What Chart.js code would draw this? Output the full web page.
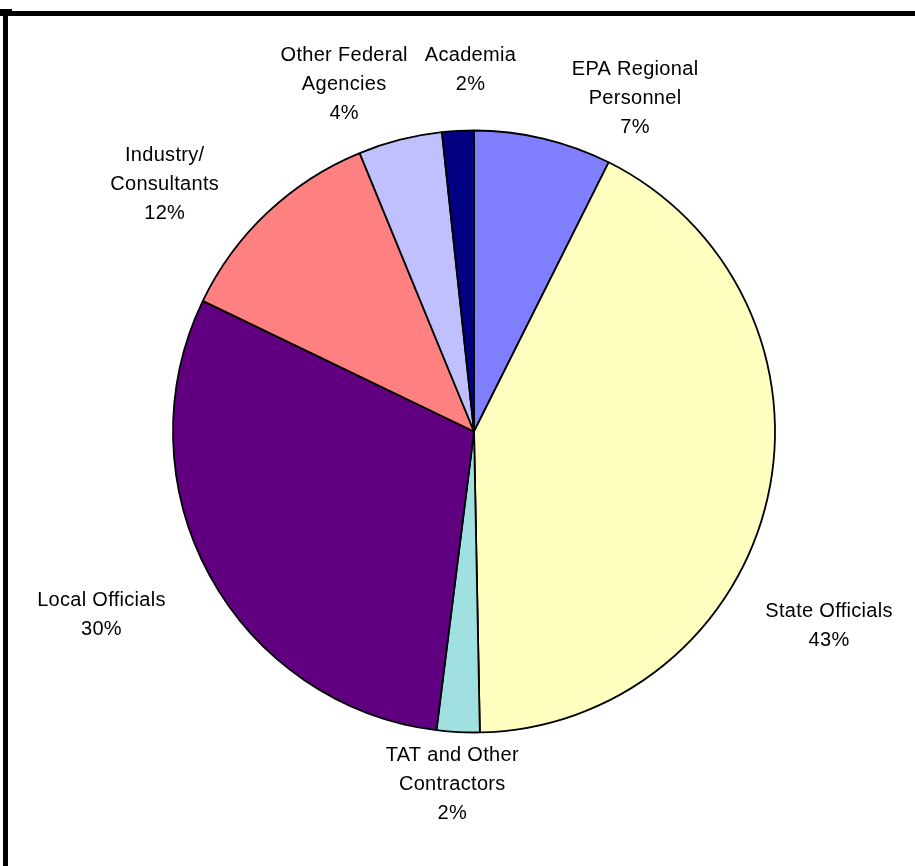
<!DOCTYPE html>
<html>
<head>
<meta charset="utf-8">
<script src="https://cdn.jsdelivr.net/npm/chart.js@4/dist/chart.umd.min.js"></script>
<style>
  html, body { margin: 0; padding: 0; background: #fff; }
  #wrap { position: relative; width: 915px; height: 866px; overflow: hidden; }
  /* Excel-style frame: heavy top and left rules only */
  #wrap::before { content: ''; position: absolute; left: 0; top: 11px; width: 915px; height: 5px; background: #000; }
  #wrap::after  { content: ''; position: absolute; left: 3px; top: 9px; width: 5px; height: 857px; background: #000; }
  #corner { position: absolute; left: 0; top: 9px; width: 12px; height: 3px; background: #000; }
  canvas { position: absolute; left: 0; top: 0; }
</style>
</head>
<body>
<div id="wrap">
  <div id="corner"></div>
  <canvas id="chart-pie" width="915" height="866"></canvas>
</div>
<script>
'use strict';

// ── Data (share of respondents, %) ────
const CATEGORIES = [
  ['EPA Regional', 'Personnel'],
  ['State Officials'],
  ['TAT and Other', 'Contractors'],
  ['Local Officials'],
  ['Industry/', 'Consultants'],
  ['Other Federal', 'Agencies'],
  ['Academia']
];
const SHARES      = [7.38, 42.3, 2.3, 30.15, 11.65, 4.5, 1.7];
const PCT_LABELS  = ['7%', '43%', '2%', '30%', '12%', '4%', '2%'];

// Classic Excel pie palette
const SLICE_COLORS = ['#8080FF', '#FFFFC0', '#A0E0E0', '#600080', '#FF8080', '#C0C0FF', '#000080'];

// Label placement: extra rotation (deg, clockwise) from slice mid-angle,
// and distance from centre as a multiple of the pie radius
const LABEL_TWEAK = [
  { rot: 12.5, dist: 1.23 },
  { rot: 16.0, dist: 1.345 },
  { rot: 0.5,  dist: 1.175 },
  { rot: 2.3,  dist: 1.38 },
  { rot: -8.1, dist: 1.315 },
  { rot: -6.3, dist: 1.23 },
  { rot: 2.5,  dist: 1.20 }
];

const FONT = "20px 'Liberation Sans', Arial, sans-serif";
const LINE_H = 29;

// Draws the multi-line category + percentage labels outside each slice
const outsideLabels = {
  id: 'outsideLabels',
  afterDatasetsDraw(chart) {
    const ctx  = chart.ctx;
    const arcs = chart.getDatasetMeta(0).data;
    ctx.save();
    ctx.font = FONT;
    ctx.letterSpacing = '0.3px';
    ctx.fillStyle = '#000';
    ctx.textAlign = 'center';
    ctx.textBaseline = 'middle';
    arcs.forEach((arc, i) => {
      const { x, y, startAngle, endAngle, outerRadius } = arc.getProps(['x', 'y', 'startAngle', 'endAngle', 'outerRadius'], true);
      const t   = LABEL_TWEAK[i];
      const ang = (startAngle + endAngle) / 2 + t.rot * Math.PI / 180;
      const cx  = x + Math.cos(ang) * outerRadius * t.dist;
      const cy  = y + Math.sin(ang) * outerRadius * t.dist;
      const lines = CATEGORIES[i].concat(PCT_LABELS[i]);
      const top = cy - (lines.length - 1) * LINE_H / 2;
      lines.forEach((ln, k) => ctx.fillText(ln, cx, top + k * LINE_H));
    });
    ctx.restore();
  }
};

new Chart(document.getElementById('chart-pie').getContext('2d'), {
  type: 'pie',
  data: {
    labels: CATEGORIES.map(c => c.join(' ')),
    datasets: [{
      data:            SHARES,
      backgroundColor: SLICE_COLORS,
      borderColor:     '#000',
      borderWidth:     1.8
    }]
  },
  options: {
    responsive: false,
    animation: false,
    radius: 301,
    layout: { padding: { left: 173, right: 140, top: 131, bottom: 134 } },
    plugins: {
      legend:  { display: false },
      tooltip: { enabled: false }
    }
  },
  plugins: [outsideLabels]
});
</script>
</body>
</html>
